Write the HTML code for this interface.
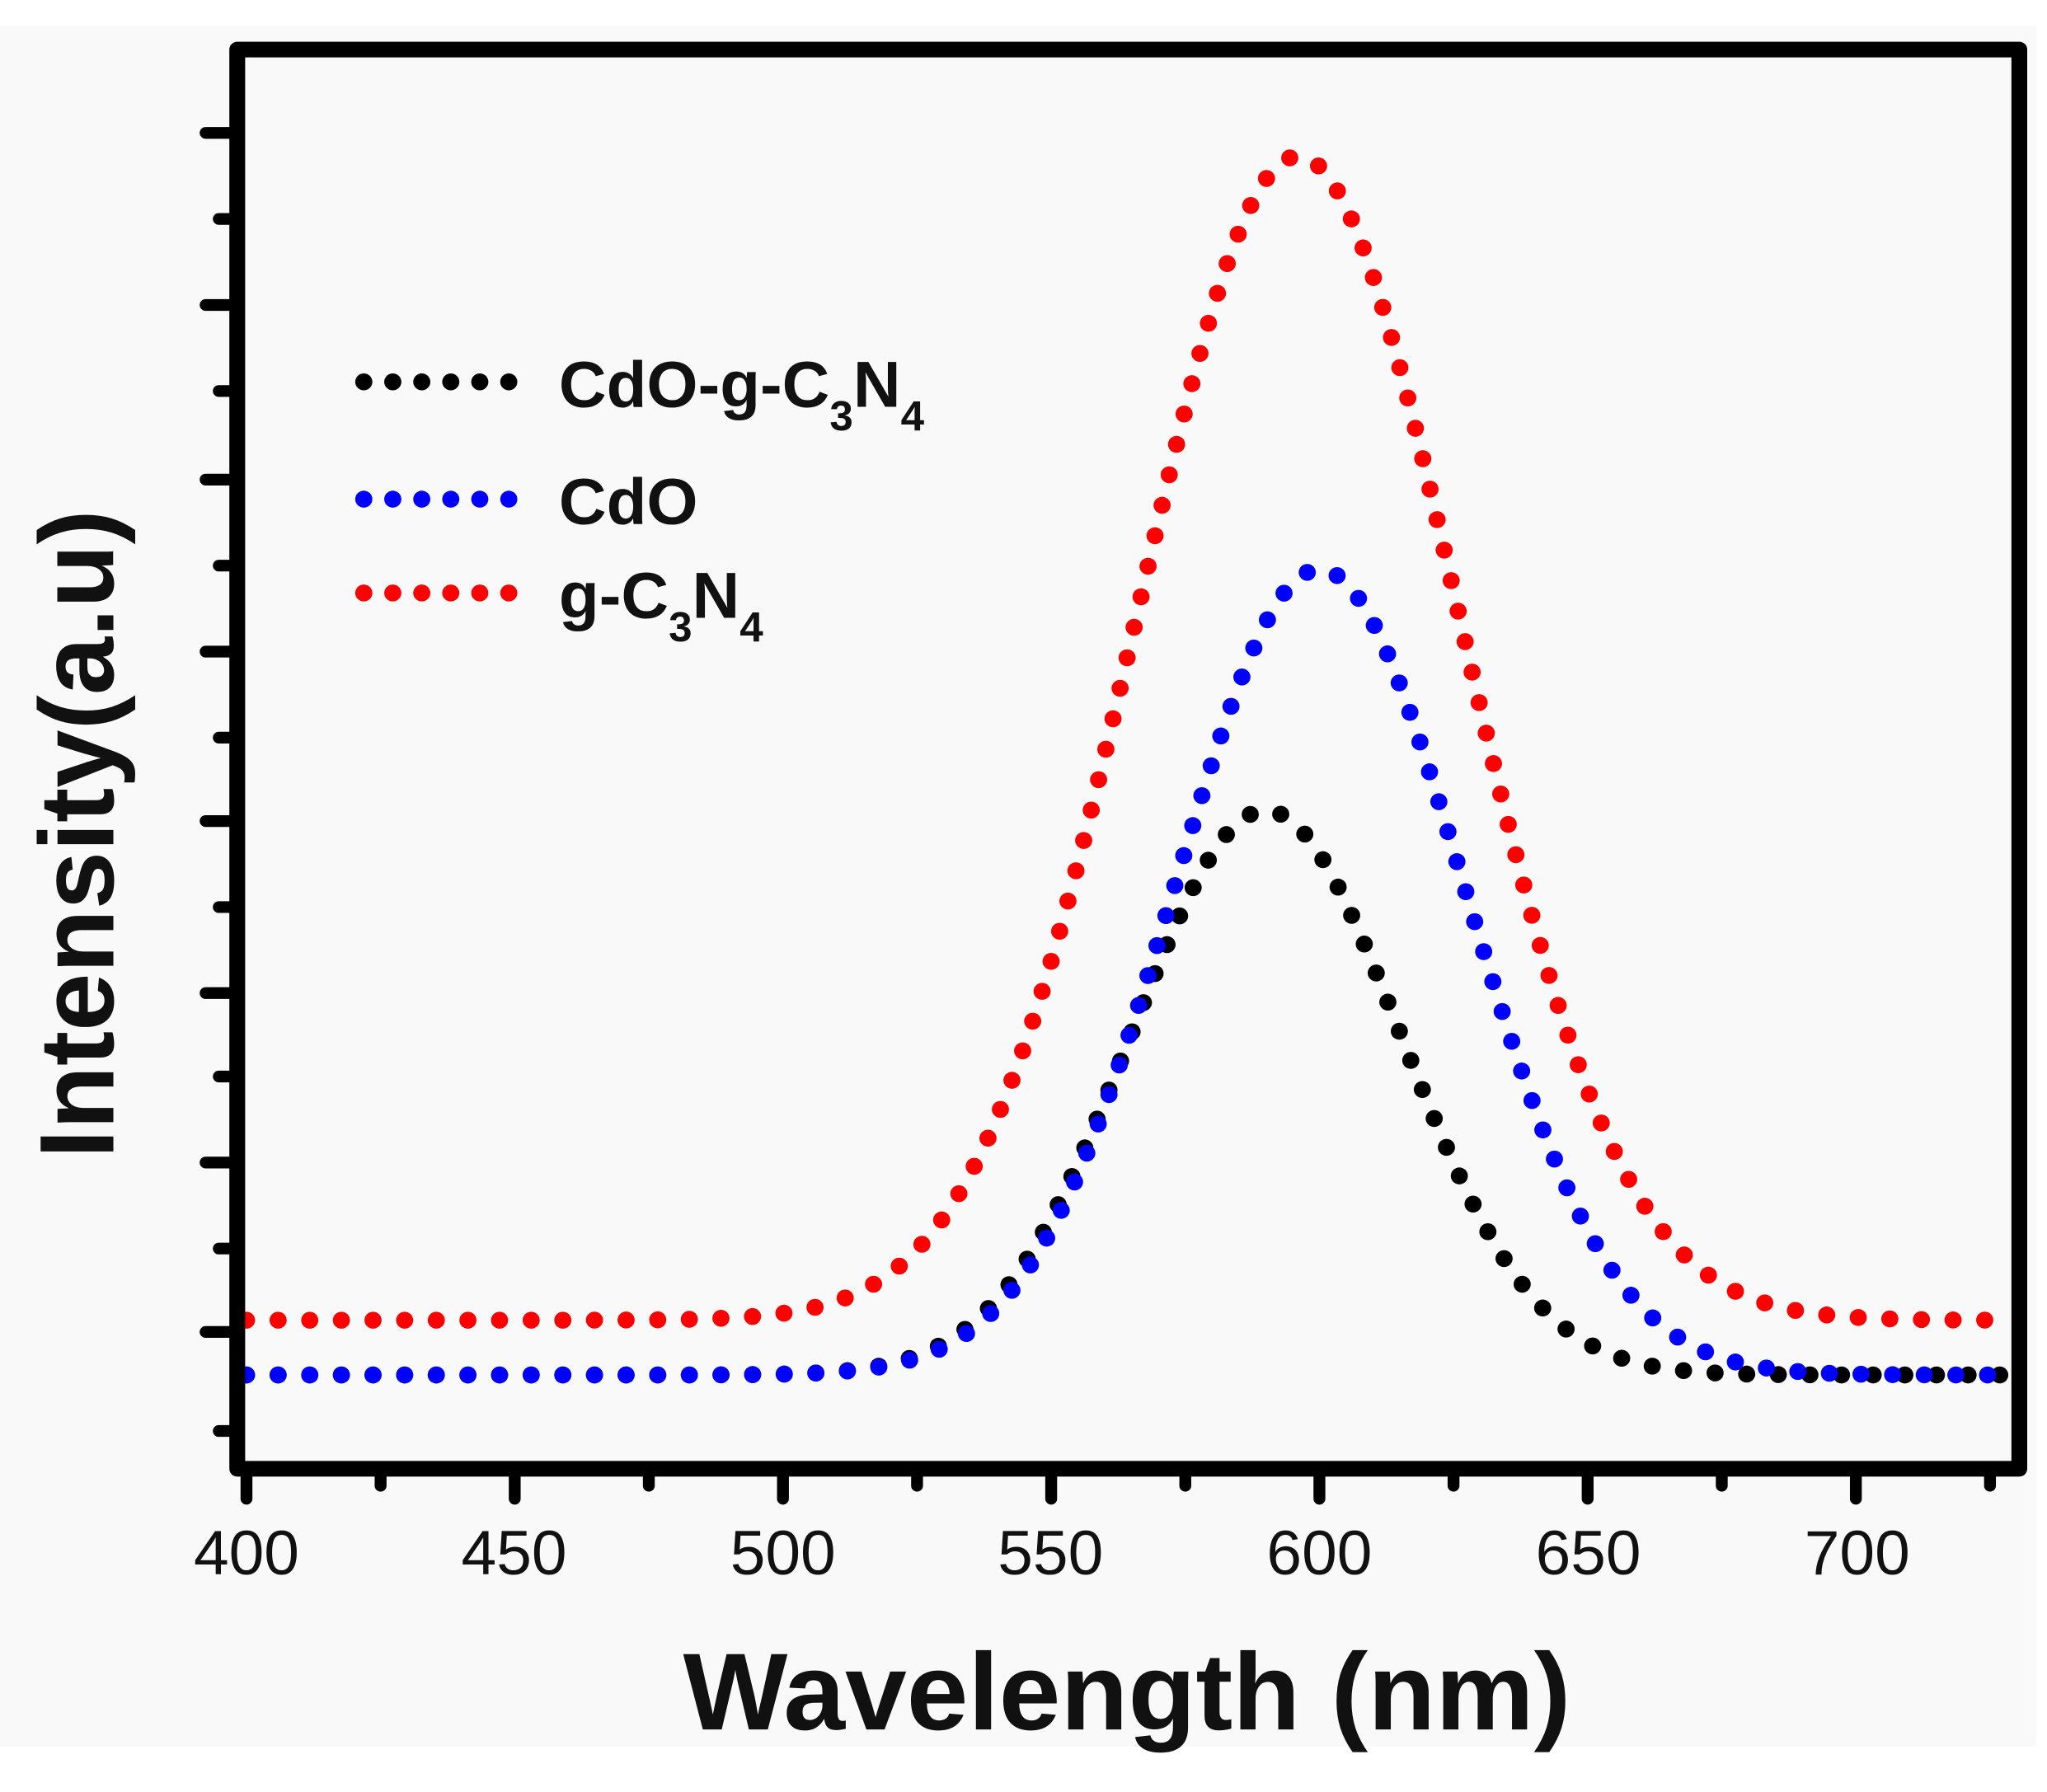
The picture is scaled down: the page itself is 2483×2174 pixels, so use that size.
<!DOCTYPE html>
<html><head><meta charset="utf-8"><style>
html,body{margin:0;padding:0;background:#fff;}
svg{display:block;}
</style></head><body>
<svg id="s" width="2483" height="2174" viewBox="0 0 1553 1375" preserveAspectRatio="none" xmlns="http://www.w3.org/2000/svg">
<rect x="0" y="20" width="1545" height="1320" fill="#f9f9f9"/>
<g id="curves" fill="none" stroke-linecap="round" stroke-width="13" stroke-dasharray="0 24"></g>
<rect x="180" y="38" width="1352" height="1089" fill="none" stroke="#000" stroke-width="12" stroke-linejoin="round"/>
<g id="ticks" stroke="#000" stroke-width="9" stroke-linecap="round"></g>
<g font-family="Liberation Sans, Arial, sans-serif" font-size="48" text-anchor="middle" fill="#111">
<text x="187" y="1208">400</text><text x="390" y="1208">450</text><text x="594" y="1208">500</text>
<text x="797" y="1208">550</text><text x="1001" y="1208">600</text><text x="1205" y="1208">650</text><text x="1409" y="1208">700</text>
</g>
<text x="855" y="1327" font-family="Liberation Sans, Arial, sans-serif" font-weight="bold" font-size="84" text-anchor="middle" fill="#111">Wavelength (nm)</text>
<text transform="translate(86,640) rotate(-90)" font-family="Liberation Sans, Arial, sans-serif" font-weight="bold" font-size="80" text-anchor="middle" fill="#111">Intensity(a.u)</text>
<g fill="none" stroke-linecap="round" stroke-width="13" stroke-dasharray="0 22">
<line x1="276" y1="293" x2="405" y2="293" stroke="#000"/>
<line x1="276" y1="383" x2="405" y2="383" stroke="#0000ff"/>
<line x1="276" y1="455" x2="405" y2="455" stroke="#ff0000"/>
</g>
<g font-family="Liberation Sans, Arial, sans-serif" font-weight="bold" font-size="50" fill="#111">
<text x="424" y="312">CdO-g-C<tspan font-size="32" dy="18">3</tspan><tspan dy="-18">N</tspan><tspan font-size="32" dy="18">4</tspan></text>
<text x="424" y="402">CdO</text>
<text x="424" y="474">g-C<tspan font-size="32" dy="18">3</tspan><tspan dy="-18">N</tspan><tspan font-size="32" dy="18">4</tspan></text>
</g>
</svg>
<script>
function X(w){return 187+(w-400)*4.07;}
function path(base,h,mu,sig,w1){
 var d="";for(var w=400;w<=w1;w+=0.5){var y=base-h*Math.exp(-Math.pow(w-mu,2)/(2*sig*sig));d+=(d?"L":"M")+X(w).toFixed(1)+" "+y.toFixed(1);}return d;}
var g=document.getElementById("curves");
function add(d,c){var p=document.createElementNS("http://www.w3.org/2000/svg","path");p.setAttribute("d",d);p.setAttribute("stroke",c);g.appendChild(p);}
add(path(1013,893,596,30,727),"#ff0000");
add(path(1055,433,590,25,730),"#000000");
add(path(1055,618,600,27,730),"#0000ff");
var t=document.getElementById("ticks"),s="";
for(var w=400;w<=725;w+=25){var maj=(w%50==0);s+='<line x1="'+X(w)+'" y1="1127" x2="'+X(w)+'" y2="'+(maj?1150:1140)+'"/>';}
var ys=[102,168,234,300,368,434,500,566,630,696,762,826,892,958,1022,1098];
for(var i=0;i<ys.length;i++){var maj=(i%2==0);s+='<line x1="180" y1="'+ys[i]+'" x2="'+(maj?156:166)+'" y2="'+ys[i]+'"/>';}
t.innerHTML=s;
</script>
</body></html>
